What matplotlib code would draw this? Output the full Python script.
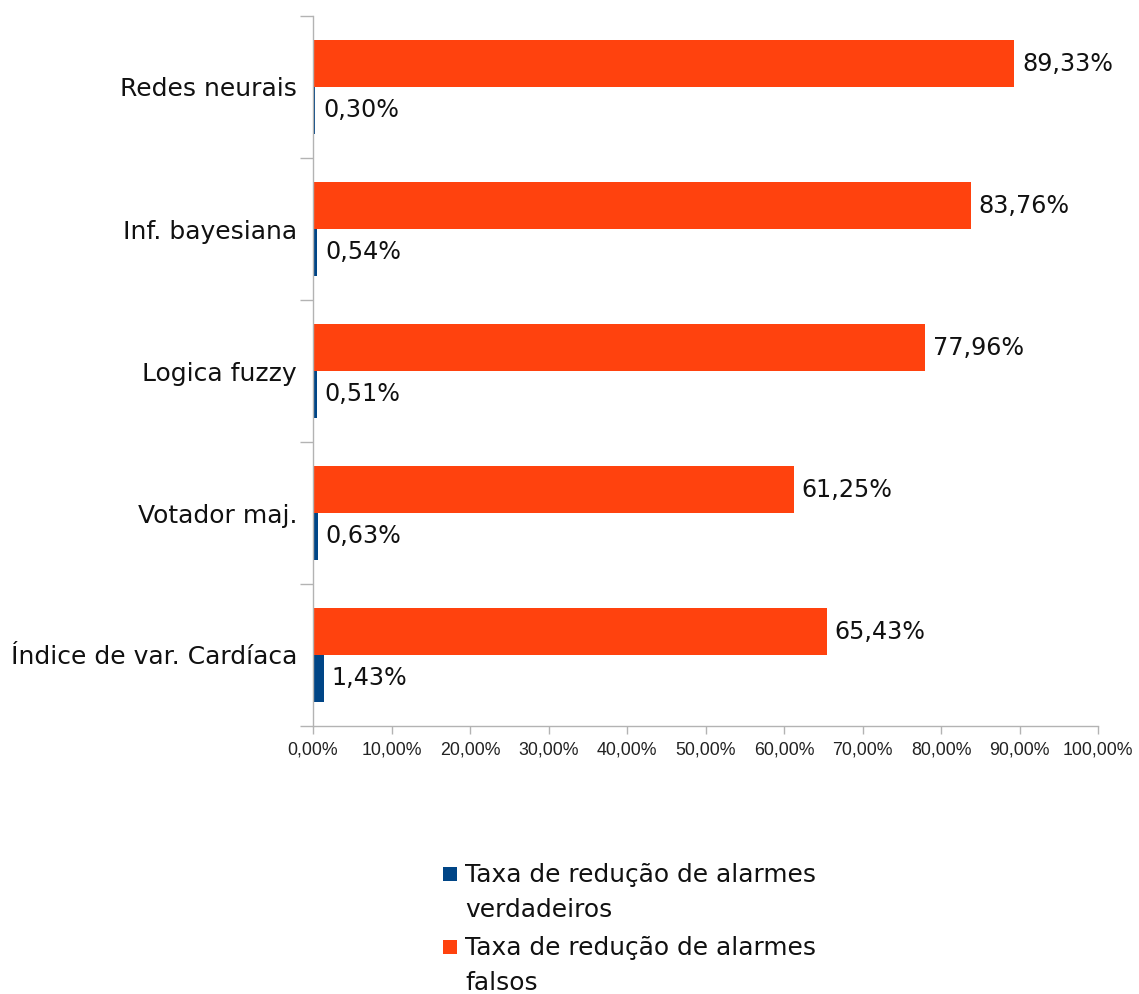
import matplotlib
matplotlib.use("Agg")
import matplotlib.pyplot as plt
import numpy as np
from matplotlib.patches import Rectangle
from matplotlib.ticker import FixedLocator, FuncFormatter

plt.rcParams['font.family'] = ['DejaVu Sans']

categories = ["Redes neurais", "Inf. bayesiana", "Logica fuzzy",
              "Votador maj.", "Índice de var. Cardíaca"]
falsos = [89.33, 83.76, 77.96, 61.25, 65.43]
verdadeiros = [0.30, 0.54, 0.51, 0.63, 1.43]
series_labels = ["Taxa de redução de alarmes\nverdadeiros",
                 "Taxa de redução de alarmes\nfalsos"]
x_ticks = list(range(0, 101, 10))

c_true = "#004586"
c_false = "#FF420E"
axis_grey = "#b3b3b3"
text_col = "#111111"
big = 17.2
cat_size = 18.0
leg_size = 17.9

W, H = 1139, 994
fig = plt.figure(figsize=(W / 100, H / 100), dpi=100)
ax = fig.add_axes([313 / W, 1 - 726 / H, (1098 - 313) / W, (726 - 16) / H])

y = np.arange(len(categories))
h = 0.33
bars_f = ax.barh(y - h / 2, falsos, height=h, color=c_false)
bars_t = ax.barh(y + h / 2, verdadeiros, height=h, color=c_true)


def fmt(v):
    return f"{v:.2f}".replace(".", ",") + "%"


for bars, vals in ((bars_f, falsos), (bars_t, verdadeiros)):
    for b, v in zip(bars, vals):
        ax.annotate(fmt(v), (v, b.get_y() + b.get_height() / 2), xytext=(5.5, 0),
                    textcoords="offset points", va="center", ha="left",
                    fontsize=big, color=text_col)

ax.set_xlim(0, 100)
ax.set_ylim(len(categories) - 0.5, -0.5)

ax.set_xticks(x_ticks)
ax.xaxis.set_major_formatter(FuncFormatter(lambda v, p: fmt(v)))
ax.tick_params(axis="x", direction="out", length=6, width=1, color=axis_grey,
               labelsize=12.8, pad=5, labelcolor="#222222")
for lbl in ax.get_xticklabels():
    lbl.set_fontfamily("Liberation Sans")

ax.set_yticks(y)
ax.set_yticklabels(categories, fontsize=cat_size, color=text_col)
ax.tick_params(axis="y", which="major", length=0, pad=11.5)
ax.yaxis.set_minor_locator(FixedLocator(np.arange(-0.5, len(categories), 1.0)))
ax.tick_params(axis="y", which="minor", direction="out", length=9.5, width=1,
               color=axis_grey)

for s in ("top", "right"):
    ax.spines[s].set_visible(False)
for s in ("left", "bottom"):
    ax.spines[s].set_color(axis_grey)
    ax.spines[s].set_linewidth(1)

# legend drawn by hand: square aligned with the first line of each label
legend_items = [(c_true, series_labels[0]), (c_false, series_labels[1])]
entry_top = 875
for color, label in legend_items:
    fig.add_artist(Rectangle((443 / W, 1 - (entry_top + 6) / H), 14 / W, 14 / H,
                             transform=fig.transFigure, color=color, lw=0))
    for k, line in enumerate(label.split("\n")):
        fig.text(465 / W, 1 - (entry_top + 35 * k) / H, line, fontsize=leg_size,
                 color=text_col, va="center", ha="left")
    entry_top += 73

fig.savefig("out.png", dpi=100)
